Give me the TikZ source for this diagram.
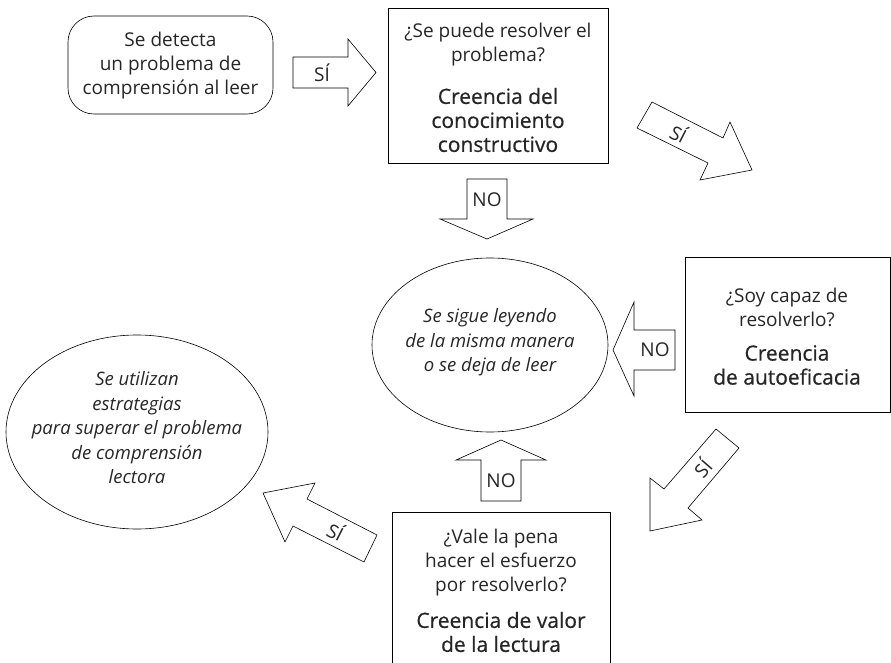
\documentclass[tikz,border=0pt]{standalone}
\usepackage{fontspec}
\setmainfont{Open Sans}
\newfontfamily\medfont[FakeBold=0.6]{Open Sans}
\usetikzlibrary{shapes.geometric}
\definecolor{txt}{gray}{0.15}
\tikzset{
  line/.style={draw=black, line width=0.6pt},
  blockarrow/.style={line, fill=white, line join=miter},
  lbl/.style={text=txt, font=\fontsize{19}{24}\selectfont, align=center, inner sep=0pt},
  ilbl/.style={lbl, font=\itshape\fontsize{18.5}{24.5}\selectfont},
  albl/.style={text=txt, font=\fontsize{19}{20}\selectfont, inner sep=0pt},
}
\newcommand{\med}[1]{{\medfont\fontsize{21}{25}\selectfont #1}}
\begin{document}
\begin{tikzpicture}[x=1pt,y=-1pt]
\useasboundingbox (0,0) rectangle (891,663);
% boxes
\draw[line, rounded corners=26pt] (68,16) rectangle (273,114);
\node[lbl] (start) at (170.5,66) {Se detecta\\un problema de\\comprensión al leer};

\draw[line] (388,8) rectangle (608,163);
\node[lbl] (q1) at (498,45) {¿Se puede resolver el\\problema?};
\node[lbl] (b1) at (498,120) {\med{Creencia del}\\\med{conocimiento}\\\med{constructivo}};

\draw[line] (685,257) rectangle (890,412);
\node[lbl] (q2) at (787,307.5) {¿Soy capaz de\\resolverlo?};
\node[lbl] (b2) at (787,365) {\med{Creencia}\\\med{de autoeficacia}};

\draw[line] (392,663.5) -- (392,512) -- (610,512) -- (610,663.5);
\node[lbl] (q3) at (501,562.5) {¿Vale la pena\\hacer el esfuerzo\\por resolverlo?};
\node[lbl] (b3) at (501,632) {\med{Creencia de valor}\\\med{de la lectura}};

% ellipses
\draw[line] (490,345) ellipse [x radius=118, y radius=87];
\node[ilbl] (e1) at (490,342.5) {Se sigue leyendo\\de la misma manera\\o se deja de leer};
\draw[line] (137,432) ellipse [x radius=131, y radius=97];
\node[ilbl] (e2) at (137,428) {Se utilizan\\estrategias\\para superar el problema\\de comprensión\\lectora};

% block arrows
\draw[blockarrow] (293,57) -- (348,57) -- (348,39) -- (376,72.5) -- (348,106) -- (348,88) -- (293,88) -- cycle;
\node[albl] (s1) at (322,73) {SÍ};

\draw[blockarrow] (467,179) -- (507,179) -- (507,219) -- (533,219) -- (487,239) -- (440,219) -- (467,219) -- cycle;
\node[albl] (n1) at (487,200) {NO};

\draw[blockarrow] (675,330) -- (675,370) -- (634,370) -- (634,396) -- (613,350) -- (634,302) -- (634,330) -- cycle;
\node[albl] (n2) at (655,350) {NO};

\draw[blockarrow] (481,501) -- (521,501) -- (521,460) -- (546,460) -- (501,440) -- (456,460) -- (481,460) -- cycle;
\node[albl] (n3) at (501,481) {NO};

\draw[blockarrow] (652,102) -- (723,138) -- (730,122) -- (752,170) -- (700,180) -- (708,163) -- (637,128) -- cycle;
\node[albl, rotate=-27] (s2) at (679,133) {SÍ};

\draw[blockarrow] (263,493) -- (315,483) -- (307,499) -- (377,535) -- (364,562) -- (293,526) -- (285,542) -- cycle;
\node[albl, rotate=-27] (s3) at (336,531) {SÍ};

\draw[blockarrow] (716,429) -- (739,448) -- (688,508) -- (702,520) -- (650,531) -- (650,478) -- (664,489) -- cycle;
\node[albl, rotate=49] (s4) at (702,468) {SÍ};
\end{tikzpicture}
\end{document}
